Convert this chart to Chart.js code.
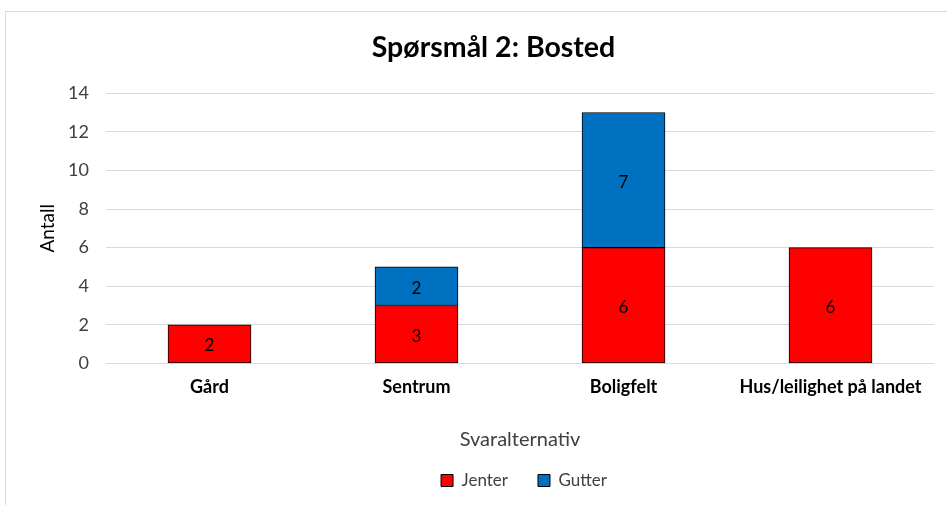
<!DOCTYPE html>
<html>
<head>
<meta charset="utf-8">
<script src="https://cdn.jsdelivr.net/npm/chart.js@4"></script>
<style>
  html, body { margin: 0; padding: 0; background: #fff; }
  #wrap { position: relative; width: 947px; height: 505px; overflow: hidden; }
  #frame { position: absolute; left: 5px; top: 11px; width: 960px; height: 520px; border: 1px solid #d9d9d9; box-sizing: border-box; }
  canvas { position: absolute; left: 0; top: 0; }
</style>
</head>
<body>
<div id="wrap">
  <div id="frame"></div>
  <canvas id="chart" width="947" height="505"></canvas>
</div>
<script>
// Data
const categories = ['Gård', 'Sentrum', 'Boligfelt', 'Hus/leilighet på landet'];
const jenter = [2, 3, 6, 6];
const gutter = [0, 2, 7, 0];
const yTicks = [0, 2, 4, 6, 8, 10, 12, 14];

// simple value labels inside the bars
const barLabels = {
  id: 'barLabels',
  afterDatasetsDraw(chart) {
    const ctx = chart.ctx;
    ctx.save();
    ctx.font = '17px Lato';
    ctx.fillStyle = '#000';
    ctx.textAlign = 'center';
    ctx.textBaseline = 'middle';
    chart.data.datasets.forEach((ds, i) => {
      chart.getDatasetMeta(i).data.forEach((bar, j) => {
        const v = ds.data[j];
        if (!v) return;
        const y = (bar.y + bar.base) / 2;
        ctx.fillText(String(v), bar.x, y + 2);
      });
    });
    ctx.restore();
  }
};

// title and legend sit a bit right of the canvas centre in the original
const shiftBoxes = {
  id: 'shiftBoxes',
  afterLayout(chart) {
    const t = chart.titleBlock, l = chart.legend;
    if (t) { t.left += 11; t.right += 11; }
    if (l) { l.left += 83; }
  }
};

new Chart(document.getElementById('chart'), {
  type: 'bar',
  data: {
    labels: categories,
    datasets: [{
      label: 'Jenter',
      data: jenter.map(v => v || null),
      backgroundColor: '#ff0000',
      borderColor: '#000',
      borderWidth: 1,
      borderSkipped: false
    }, {
      label: 'Gutter',
      data: gutter.map(v => v || null),
      backgroundColor: '#0070c0',
      borderColor: '#000',
      borderWidth: 1,
      borderSkipped: false
    }]
  },
  options: {
    responsive: false,
    animation: false,
    datasets: { bar: { barThickness: 83 } },
    layout: { padding: { left: 31, right: 13, top: 20, bottom: 6 } },
    plugins: {
      title: {
        display: true,
        text: 'Spørsmål 2: Bosted',
        color: '#000',
        font: { family: 'Lato', size: 28.5, weight: 'bold' },
        padding: { top: 11, bottom: 28 }
      },
      legend: {
        position: 'bottom',
        labels: {
          color: '#404040',
          font: { family: 'Lato', size: 17 },
          boxWidth: 12,
          boxHeight: 12,
          padding: 30
        }
      },
      tooltip: { enabled: false }
    },
    scales: {
      x: {
        stacked: true,
        grid: { display: false },
        border: { display: false },
        ticks: { color: '#000', font: { family: 'Lato', size: 18, weight: 'bold' }, padding: 5 },
        title: { display: true, text: 'Svaralternativ', color: '#404040', font: { family: 'Lato', size: 20 }, padding: { top: 25, bottom: -10 } }
      },
      y: {
        stacked: true,
        min: 0,
        max: 14,
        afterBuildTicks(scale) { scale.ticks = yTicks.map(v => ({ value: v })); },
        grid: { color: '#d9d9d9', drawTicks: false },
        border: { display: false },
        ticks: { color: '#404040', font: { family: 'Lato', size: 18 }, padding: 17 },
        title: { display: true, text: 'Antall', color: '#000', font: { family: 'Lato', size: 19 }, padding: { top: 5, bottom: 12 } },
        afterFit(scale) { scale.width = 75; }
      }
    }
  },
  plugins: [barLabels, shiftBoxes]
});
</script>
</body>
</html>
